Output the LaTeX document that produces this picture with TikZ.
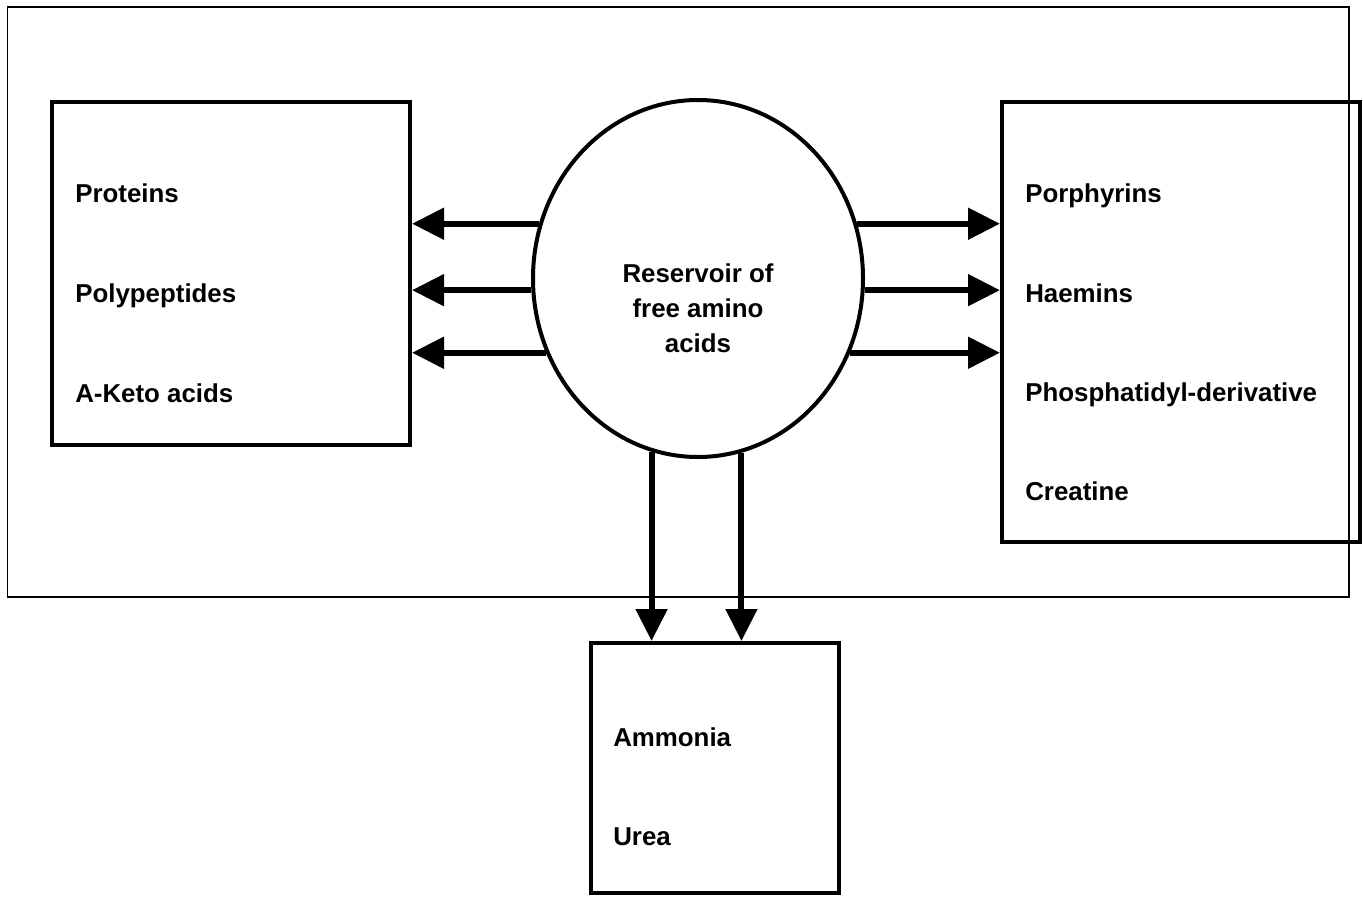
\documentclass[tikz,border=0pt]{standalone}
\usepackage{fontspec}
\setmainfont{Liberation Sans}
\usetikzlibrary{shapes.geometric}
\usetikzlibrary{arrows.meta}

\begin{document}
\begin{tikzpicture}[x=0.75pt,y=-0.75pt,
		flow/.style={line width=4.5pt,-{Triangle[length=24pt,width=23pt]}},
		box/.style={rectangle,draw,line width=3pt,inner sep=0pt},
		item/.style={anchor=base west,inner sep=0pt,font=\fontsize{19.4}{23}\selectfont\bfseries}]
		
		\useasboundingbox (0,0) rectangle (1363,896);
		\draw[line width=1.2pt] (7.5,7) rectangle (1349,597);
		
		\node[box,minimum width=268.5pt,minimum height=257.25pt] (synth) at (231,273.5) {};
		\node[box,minimum width=268.5pt,minimum height=330pt] (deriv) at (1181,322) {};
		\node[box,minimum width=186pt,minimum height=187.5pt] (waste) at (715,768) {};
		\node[ellipse,draw,line width=3pt,inner sep=0pt,minimum width=247.5pt,
			minimum height=267.75pt] (res) at (698,278.5) {};
		
		\node[align=center,inner sep=0pt,font=\fontsize{19.4}{26.25}\selectfont\bfseries]
			(restext) at (698,308) {Reservoir of\\free amino\\acids};
		
		\node[item] (proteins) at (75,202) {Proteins};
		\node[item] (polypep) at (75,302) {Polypeptides};
		\node[item] (keto) at (75,402) {A-Keto acids};
		
		\node[item] (porph) at (1025,202) {Porphyrins};
		\node[item] (haem) at (1025,302) {Haemins};
		\node[item] (phos) at (1025,401) {Phosphatidyl-derivative};
		\node[item] (creat) at (1025,500) {Creatine};
		
		\node[item] (ammonia) at (613,746) {Ammonia};
		\node[item] (urea) at (613,845) {Urea};
		
		\draw[flow] (res.161) -- (res.161 -| synth.east);
		\draw[flow] (res.184) -- (res.184 -| synth.east);
		\draw[flow] (res.206) -- (res.206 -| synth.east);
		\draw[flow] (res.19) -- (res.19 -| deriv.west);
		\draw[flow] (res.-4) -- (res.-4 -| deriv.west);
		\draw[flow] (res.-26) -- (res.-26 -| deriv.west);
		\draw[flow] (res.255) -- (res.255 |- waste.north);
		\draw[flow] (res.284) -- (res.284 |- waste.north);
		\end{tikzpicture}
\end{document}
